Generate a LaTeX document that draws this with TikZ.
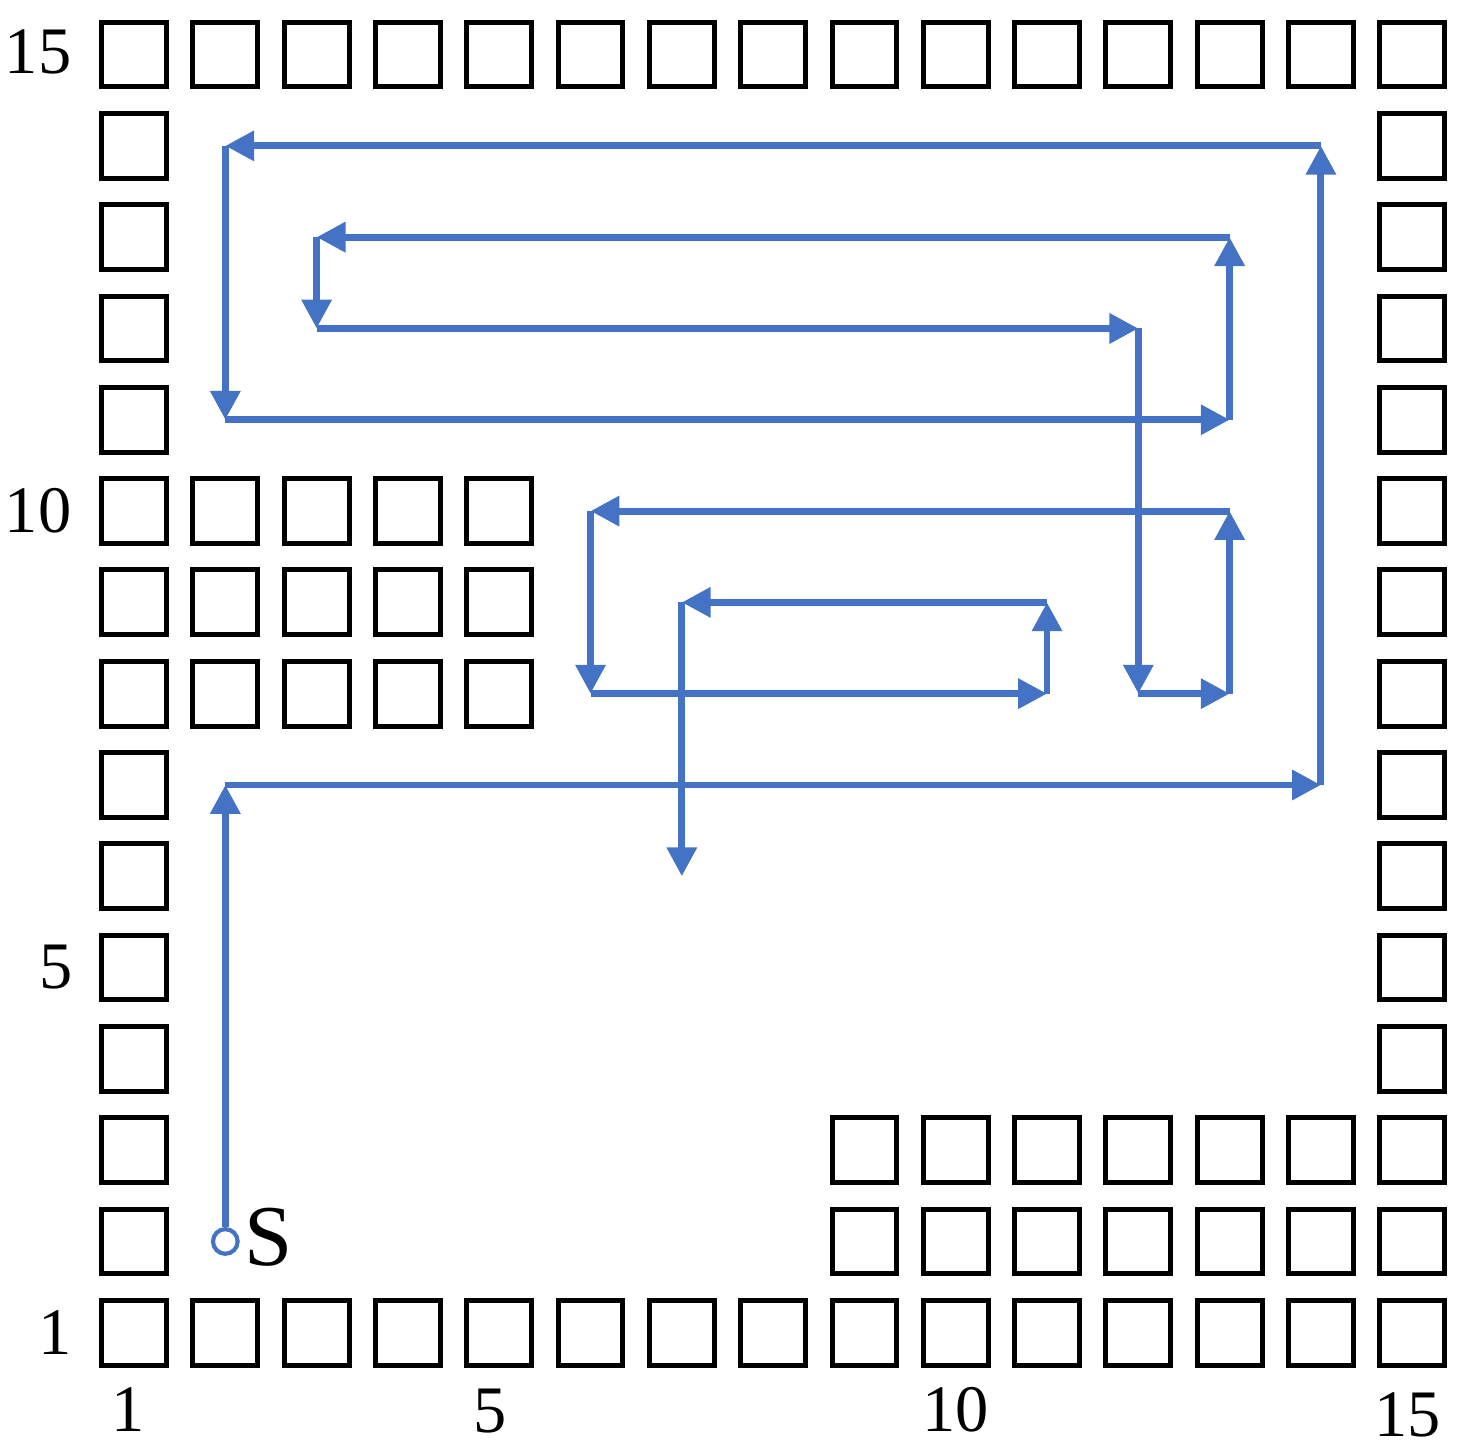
\documentclass[tikz,border=0pt]{standalone}
\usepackage{fontspec}
\setmainfont{Liberation Serif}
\usetikzlibrary{arrows.meta}
\definecolor{routecol}{RGB}{68,114,196}
\tikzstyle{wall}=[draw,rectangle,line width=1.56pt,minimum size=0.71cm,inner sep=0pt]
\tikzstyle{route}=[routecol,line width=2.15pt,-{Triangle[length=9pt,width=9pt]},yshift=-0.035cm]
\tikzstyle{num}=[font=\fontsize{20.7}{24}\selectfont,inner sep=0pt]

\begin{document}
\begin{tikzpicture}
\useasboundingbox (-0.468,-0.262) rectangle (15.589,15.598);
% grid cells
\foreach \x in {1,...,15}
  \foreach \y in {1,...,15}
    \coordinate (c\x-\y) at (\x,\y);
% border walls
\foreach \i in {1,...,15} {
  \node[wall] (wb\i) at (c\i-1) {};
  \node[wall] (wt\i) at (c\i-15) {};
  \node[wall] (wl\i) at (c1-\i) {};
  \node[wall] (wr\i) at (c15-\i) {};
}
% inner blocks
\foreach \x in {2,...,5}
  \foreach \y in {8,9,10}
    \node[wall] (wa\x-\y) at (c\x-\y) {};
\foreach \x in {9,...,14}
  \foreach \y in {2,3}
    \node[wall] (wc\x-\y) at (c\x-\y) {};
% axis numbers
\node[num,anchor=east] (y15) at (0.32,15.03) {15};
\node[num,anchor=east] (y10) at (0.32,10) {10};
\node[num,anchor=east] (y5) at (0.34,5) {5};
\node[num,anchor=east] (y1) at (0.32,1) {1};
\node[num] (x1) at (0.94,0.16) {1};
\node[num] (x5) at (4.9,0.14) {5};
\node[num] (x10) at (10,0.16) {10};
\node[num] (x15) at (14.95,0.1) {15};
% start
\node[circle,draw=routecol,line width=1.3pt,minimum size=0.27cm,inner sep=0pt] (s) at (c2-2) {};
\node[font=\fontsize{27}{30}\selectfont,anchor=west,inner sep=0pt] (slab) at (2.2,2.05) {S};
% route
\draw[route,yshift=0.035cm] (s) -- (c2-7);
\foreach \a/\b in {2-7/14-7, 14-7/14-14, 14-14/2-14, 2-14/2-11, 2-11/13-11,
    13-11/13-13, 13-13/3-13, 3-13/3-12, 3-12/12-12, 12-12/12-8, 12-8/13-8,
    13-8/13-10, 13-10/6-10, 6-10/6-8, 6-8/11-8, 11-8/11-9, 11-9/7-9, 7-9/7-6}
  \draw[route] (c\a) -- (c\b);
\end{tikzpicture}
\end{document}
